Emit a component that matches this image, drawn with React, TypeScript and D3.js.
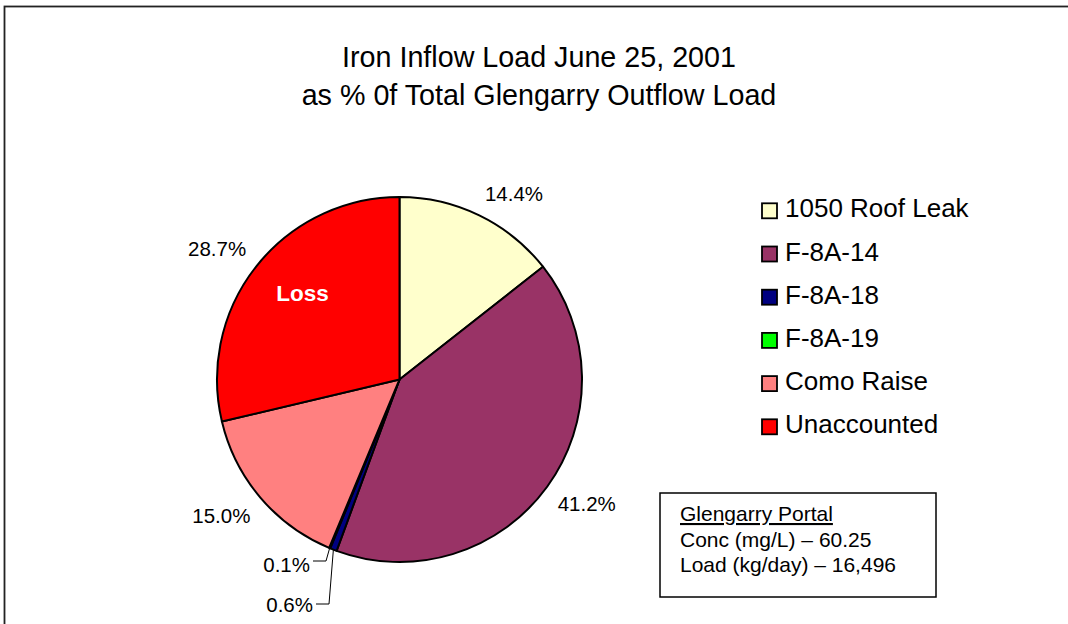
import React from "react";
import * as d3 from "d3";

const categories = ["1050 Roof Leak", "F-8A-14", "F-8A-18", "F-8A-19", "Como Raise", "Unaccounted"];
const values = [14.4, 41.2, 0.6, 0.1, 15.0, 28.7];
const colors = ["#FFFFCC", "#993366", "#000080", "#00FF00", "#FF8080", "#FF0000"];
const titleLines = ["Iron Inflow Load June 25, 2001", "as % 0f Total Glengarry Outflow Load"];
const boxTitle = "Glengarry Portal";
const boxLines = ["Conc (mg/L) \u2013 60.25", "Load (kg/day) \u2013 16,496"];
const sliceNote = "Loss";

const W = 1068;
const H = 624;
const FONT = "'Liberation Sans', Arial, Helvetica, sans-serif";

export default function App() {
  const cx = 399.5;
  const cy = 379.5;
  const r = 182.5;
  const data = categories.map((c, i) => ({ name: c, value: values[i], color: colors[i] }));
  const pie = d3.pie<any>().value((d) => d.value).sort(null);
  const arcs = pie(data);
  const arcGen = d3.arc<any>().innerRadius(0).outerRadius(r);

  const pt = (ang: number, rad: number) => [cx + rad * Math.sin(ang), cy - rad * Math.cos(ang)];

  // small slices with leader lines (manually moved labels)
  const smallLayout: Record<string, { lx: number; ly: number; elbowX: number; elbowY: number }> = {
    "F-8A-19": { lx: 310, ly: 572, elbowX: 326, elbowY: 561 },
    "F-8A-18": { lx: 313, ly: 612, elbowX: 329, elbowY: 604 },
  };

  return (
    <svg
      width={W}
      height={H}
      style={{ position: "absolute", left: 0, top: 0, background: "#fff" }}
      fontFamily={FONT}
    >
      <rect x={0} y={0} width={W} height={H} fill="#fff" />
      <rect x={4.5} y={6.5} width={W + 50} height={H + 50} fill="none" stroke="#222" strokeWidth={1.8} />

      {titleLines.map((t, i) => (
        <text key={i} x={539} y={67 + i * 37.5} textAnchor="middle" fontSize={28.7} fill="#000">
          {t}
        </text>
      ))}

      <g>
        {arcs.map((a, i) => (
          <path
            key={i}
            d={arcGen(a) as string}
            transform={`translate(${cx},${cy})`}
            fill={a.data.color}
            stroke="#000"
            strokeWidth={2}
            strokeLinejoin="round"
          />
        ))}
      </g>

      {arcs.map((a, i) => {
        const mid = (a.startAngle + a.endAngle) / 2;
        const label = d3.format(".1f")(a.data.value) + "%";
        const small = smallLayout[a.data.name];
        if (small) {
          const [ex, ey] = pt(mid, r);
          return (
            <g key={i}>
              <polyline
                points={`${small.lx + 3},${small.elbowY} ${small.elbowX},${small.elbowY} ${ex},${ey}`}
                fill="none"
                stroke="#000"
                strokeWidth={1}
              />
              <text x={small.lx} y={small.ly} textAnchor="end" fontSize={20.5} fill="#000">
                {label}
              </text>
            </g>
          );
        }
        const [ax, ay] = pt(mid, r + 13);
        const right = Math.sin(mid) >= 0;
        const upper = Math.cos(mid) >= 0;
        return (
          <text
            key={i}
            x={ax}
            y={upper ? ay - 2.5 : ay + 17}
            textAnchor={right ? "start" : "end"}
            fontSize={20.5}
            fill="#000"
          >
            {label}
          </text>
        );
      })}

      <text x={302.5} y={301} textAnchor="middle" fontSize={22.5} fontWeight="bold" fill="#fff">
        {sliceNote}
      </text>

      <g>
        {categories.map((c, i) => {
          const by = 217.3 + i * 43.2;
          return (
            <g key={c}>
              <rect x={762} y={by - 14} width={15} height={15} fill={colors[i]} stroke="#000" strokeWidth={1.8} />
              <text x={785} y={by} fontSize={26} fill="#000">
                {c}
              </text>
            </g>
          );
        })}
      </g>

      <g>
        <rect x={660} y={493} width={276} height={104} fill="#fff" stroke="#000" strokeWidth={1.5} />
        <text x={680} y={521} fontSize={21} fill="#000" textDecoration="underline">
          {boxTitle}
        </text>
        {boxLines.map((t, i) => (
          <text key={i} x={680} y={546.5 + i * 25} fontSize={21} fill="#000">
            {t}
          </text>
        ))}
      </g>
    </svg>
  );
}
